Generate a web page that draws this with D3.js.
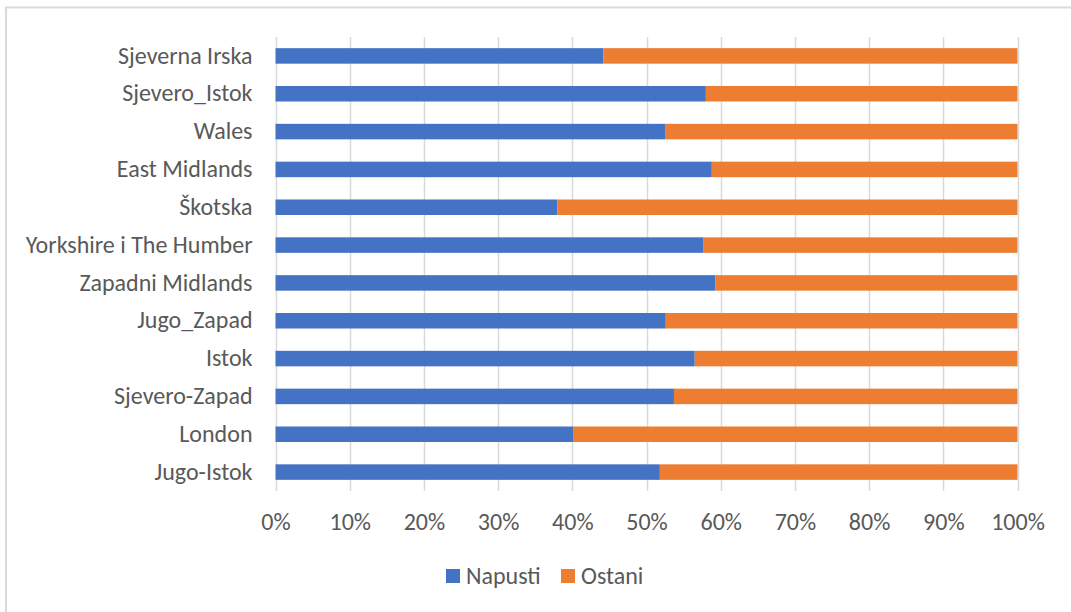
<!DOCTYPE html>
<html>
<head>
<meta charset="utf-8">
<script src="https://cdn.jsdelivr.net/npm/d3@7"></script>
<style>
  html, body { margin: 0; padding: 0; background: #fff; }
  svg { display: block; }
  text { font-family: Carlito, Lato, "Liberation Sans", sans-serif; fill: #595959; }
</style>
</head>
<body>
<svg id="chart" width="1071" height="612"></svg>
<script>
const categories = ["Sjeverna Irska", "Sjevero_Istok", "Wales", "East Midlands", "Škotska",
  "Yorkshire i The Humber", "Zapadni Midlands", "Jugo_Zapad", "Istok", "Sjevero-Zapad",
  "London", "Jugo-Istok"];
const napusti = [44.2, 58.0, 52.5, 58.8, 38.0, 57.7, 59.3, 52.6, 56.5, 53.7, 40.1, 51.8];
const ostani  = [55.8, 42.0, 47.5, 41.2, 62.0, 42.3, 40.7, 47.4, 43.5, 46.3, 59.9, 48.2];
const seriesNames = ["Napusti", "Ostani"];
const colors = ["#4472C4", "#ED7D31"];
const tickValues = [0, 0.1, 0.2, 0.3, 0.4, 0.5, 0.6, 0.7, 0.8, 0.9, 1.0];

const svg = d3.select("#chart");
const fontSize = 24;

// chart frame
svg.append("rect").attr("x", 6).attr("y", 7.5).attr("width", 1100).attr("height", 700)
  .attr("fill", "none").attr("stroke", "#d9d9d9").attr("stroke-width", 2);

const x = d3.scaleLinear().domain([0, 1]).range([275.5, 1017.5]);
const y = d3.scaleBand().domain(categories).range([37, 491]).paddingInner(0.59).paddingOuter(0.295);

const data = categories.map((c, i) => {
  const tot = napusti[i] + ostani[i];
  return { cat: c, Napusti: napusti[i] / tot, Ostani: ostani[i] / tot };
});
const stack = d3.stack().keys(seriesNames)(data);

// gridlines
svg.append("g").selectAll("line").data(tickValues).join("line")
  .attr("x1", d => Math.round(x(d)) + 0.5).attr("x2", d => Math.round(x(d)) + 0.5)
  .attr("y1", 37).attr("y2", 491)
  .attr("stroke", "#d9d9d9").attr("stroke-width", 1.5);

// bars
svg.append("g").selectAll("g").data(stack).join("g")
  .attr("fill", (d, i) => colors[i])
  .selectAll("rect").data(d => d).join("rect")
  .attr("x", d => x(d[0]))
  .attr("width", d => x(d[1]) - x(d[0]))
  .attr("y", d => y(d.data.cat))
  .attr("height", y.bandwidth());

// y axis labels
const yAxis = d3.axisLeft(y).tickSize(0).tickPadding(23);
const gy = svg.append("g").attr("transform", `translate(${x(0)},0)`).call(yAxis);
gy.select(".domain").remove();
gy.selectAll("text").style("font-size", fontSize + "px").style("font-family", null).attr("fill", "#595959");

// x axis labels
const xAxis = d3.axisBottom(x).tickValues(tickValues).tickFormat(d3.format(".0%")).tickSize(0).tickPadding(22);
const gx = svg.append("g").attr("transform", `translate(0,491)`).call(xAxis);
gx.select(".domain").remove();
gx.selectAll("text").style("font-size", fontSize + "px").style("font-family", null).attr("fill", "#595959");

// legend
const legend = svg.append("g");
const legendItems = [{ name: seriesNames[0], x: 446 }, { name: seriesNames[1], x: 561 }];
legendItems.forEach((it, i) => {
  legend.append("rect").attr("x", it.x).attr("y", 569).attr("width", 14).attr("height", 14).attr("fill", colors[i]);
  legend.append("text").attr("x", it.x + 20).attr("y", 576).attr("dy", "0.35em")
    .style("font-size", fontSize + "px").text(it.name);
});
</script>
</body>
</html>
